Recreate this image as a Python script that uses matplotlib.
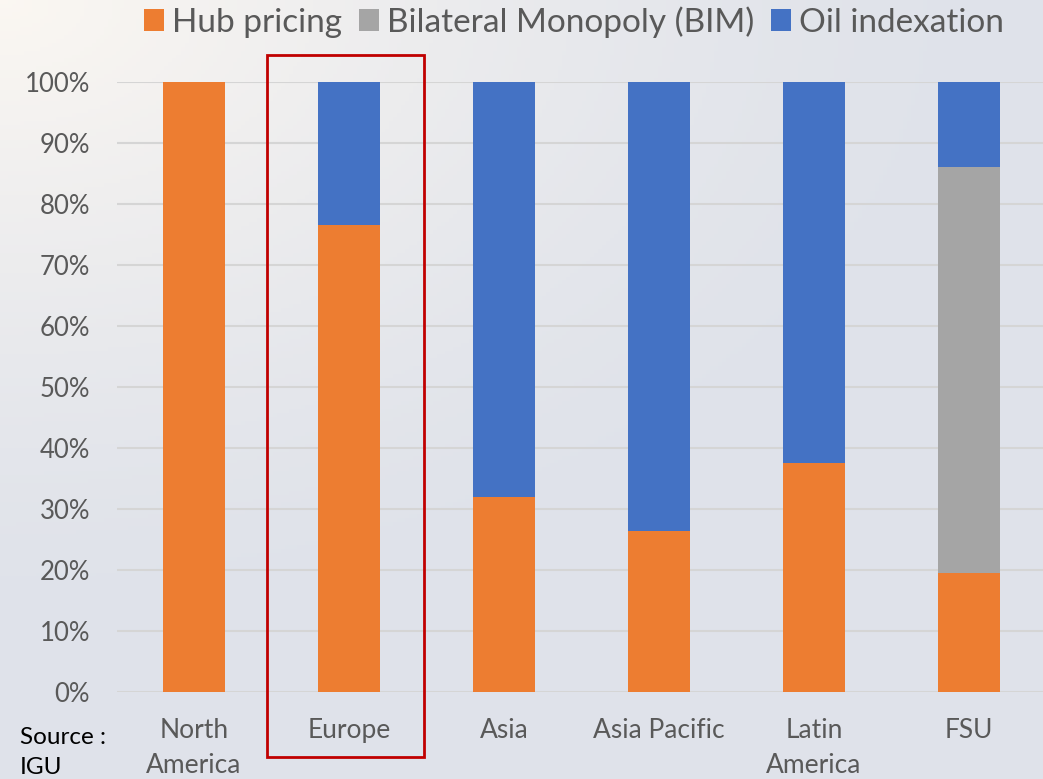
import numpy as np
import matplotlib.pyplot as plt
from matplotlib.patches import Rectangle

plt.rcParams['font.family'] = ['Lato', 'DejaVu Sans']

regions = ['North\nAmerica', 'Europe', 'Asia', 'Asia Pacific', 'Latin\nAmerica', 'FSU']
hub_pricing = [100.0, 76.6, 32.0, 26.4, 37.5, 19.5]
bim = [0.0, 0.0, 0.0, 0.0, 0.0, 66.6]
oil_indexation = [0.0, 23.4, 68.0, 73.6, 62.5, 13.9]
y_ticks = [0, 10, 20, 30, 40, 50, 60, 70, 80, 90, 100]

W, H = 1043, 779
fig = plt.figure(figsize=(W / 100, H / 100), dpi=100)

# soft background: bluish grey with warm glow top-left
bg = fig.add_axes([0, 0, 1, 1], zorder=-10)
yy, xx = np.mgrid[0:1:200j, 0:1:260j]
base = np.array([0.878, 0.890, 0.918])
warm = np.array([0.985, 0.970, 0.950])
d = np.sqrt((xx / 0.9) ** 2 + (yy / 0.75) ** 2)
t = np.clip(1 - d, 0, 1) ** 1.3
img = base[None, None, :] * (1 - t[..., None]) + warm[None, None, :] * t[..., None]
bg.imshow(img, extent=[0, 1, 1, 0], aspect='auto')
bg.set_xlim(0, 1)
bg.set_ylim(1, 0)
bg.axis('off')

left = 116.5 / W
bottom = (H - 692) / H
height = 610 / H
ax = fig.add_axes([left, bottom, 1 - left, height])
ax.patch.set_alpha(0)

x = np.arange(len(regions))
width = 0.4
ax.bar(x, hub_pricing, width, color='#ED7D31', label='Hub pricing', zorder=3)
ax.bar(x, bim, width, bottom=hub_pricing, color='#A5A5A5', label='Bilateral Monopoly (BIM)', zorder=3)
ax.bar(x, oil_indexation, width, bottom=np.array(hub_pricing) + np.array(bim),
       color='#4472C4', label='Oil indexation', zorder=3)

ax.set_xlim(-0.5, (W - 194) / 155)
ax.set_ylim(0, 100)
ax.set_yticks(y_ticks)
ax.set_yticklabels([f'{v}%' for v in y_ticks])
ax.set_xticks(x)
ax.set_xticklabels(regions, linespacing=1.5)
ax.tick_params(axis='both', length=0, colors='#595959')
ax.tick_params(axis='y', pad=19, labelsize=18.5)
ax.tick_params(axis='x', pad=19, labelsize=19)
ax.yaxis.grid(True, color='#D5D5D5', linewidth=1.5, zorder=0)
for s in ax.spines.values():
    s.set_visible(False)

# highlight box around Europe
fig.patches.append(Rectangle((267 / W, 1 - 757 / H), (424 - 267) / W, (757 - 55) / H,
                             transform=fig.transFigure, fill=False,
                             edgecolor='#C00000', linewidth=2, zorder=5))

leg = fig.legend(loc='center', bbox_to_anchor=(574 / W, 1 - 22 / H), ncol=3, frameon=False,
                 fontsize=24, handlelength=0.6, handleheight=0.6, handletextpad=0.25,
                 columnspacing=0.5)
for t in leg.get_texts():
    t.set_color('#595959')

fig.text(20 / W, 1 - 738 / H, 'Source :', fontsize=17.5, color='black', va='center')
fig.text(20 / W, 1 - 768 / H, 'IGU', fontsize=17.5, color='black', va='center')

fig.savefig('out.png', dpi=100)
